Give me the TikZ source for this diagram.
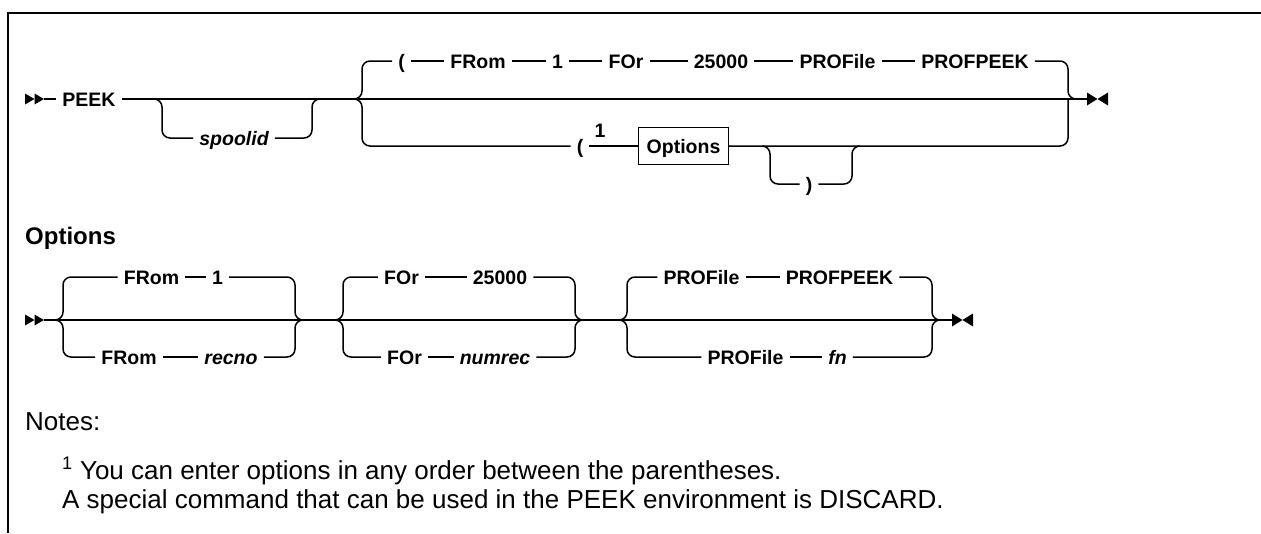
\documentclass[tikz,border=0pt]{standalone}
\usepackage{fontspec}
\setmainfont{Liberation Sans}

\tikzset{
  rail/.style={line width=1.5pt, rounded corners=8pt},
  kw/.style={inner xsep=6pt, inner ysep=1pt, text height=14pt, text depth=0pt,
    font=\fontsize{19.5}{22}\selectfont\bfseries},
  var/.style={kw, font=\fontsize{19.5}{22}\selectfont\bfseries\itshape},
  optbox/.style={kw, draw, line width=1.5pt, minimum height=37pt, inner xsep=8pt},
  notetext/.style={anchor=base west, inner sep=0pt, font=\fontsize{26}{30}\selectfont},
}

\begin{document}
\begin{tikzpicture}[x=1pt, y=-1pt]

  \useasboundingbox (0,0) rectangle (1261,533);
  \draw[line width=2.2pt] (8,533) -- (8,13) -- (1261,13);

  % start and end marks
  \foreach \y in {99,320}{
    \fill (25,\y-5.5) -- (34.5,\y) -- (25,\y+5.5) -- cycle;
    \fill (34.5,\y-5.5) -- (44,\y) -- (34.5,\y+5.5) -- cycle;
  }
  \foreach \x/\y in {1087/99, 952/320}{
    \fill (\x,\y-6.5) -- (\x+10.5,\y) -- (\x,\y+6.5) -- cycle;
    \fill (\x+21,\y-6.5) -- (\x+10.5,\y) -- (\x+21,\y+6.5) -- cycle;
  }

  % PEEK command
  \node[kw] (peek) at (89,99) {PEEK};
  \node[var] (spool) at (234,138) {spoolid};
  \node[kw] (lpa) at (401.5,61) {(};
  \node[kw] (froma) at (478,61) {FRom};
  \node[kw] (onea) at (557.5,61) {1};
  \node[kw] (fora) at (626,61) {FOr};
  \node[kw] (numa) at (721,61) {25000};
  \node[kw] (profa) at (837.5,61) {PROFile};
  \node[kw] (pfpka) at (975,61) {PROFPEEK};
  \node[kw] (lpb) at (580,146) {(};
  \node[kw, inner sep=0pt] (fn1) at (600,130) {1};
  \node[optbox] (optref) at (683.5,146) {Options};
  \node[kw] (rpb) at (809,184) {)};

  \coordinate (s1) at (44,99);
  \coordinate (e1) at (1087,99);
  \coordinate (j1) at (153,99);
  \coordinate (j2) at (312,99);
  \coordinate (g1) at (352,99);
  \coordinate (g1r) at (1068,99);
  \coordinate (k1) at (762,146);
  \coordinate (k2) at (852,146);

  \draw[rail] (s1) -- (peek.west);
  \draw[rail] (peek.east) -- (e1);
  \draw[rail] (j1) -- ++(9,0) |- (spool.west);
  \draw[rail] (spool.east) -| (j2) -- ++(8,0);
  \draw[rail] (g1) -- ++(10,0) |- (lpa.west);
  \foreach \a/\b in {lpa/froma, froma/onea, onea/fora, fora/numa, numa/profa, profa/pfpka}
    \draw[rail] (\a.east) -- (\b.west);
  \draw[rail] (pfpka.east) -| (g1r) -- ++(8,0);
  \draw[rail] (g1) -- ++(10,0) |- (lpb.west);
  \draw[rail] (lpb.east) -- (optref.west);
  \draw[rail] (optref.east) -| (g1r);
  \draw[rail] (k1) -- ++(8,0) |- (rpb.west);
  \draw[rail] (rpb.east) -| (k2) -- ++(8,0);

  % Options fragment
  \node[anchor=west, inner sep=0pt, font=\fontsize{24}{28}\selectfont\bfseries] (opthead) at (25,238) {Options};

  \node[kw] (fromb1) at (151.5,277) {FRom};
  \node[kw] (oneb) at (217.5,277) {1};
  \node[kw] (fromb2) at (129,357) {FRom};
  \node[var] (recno) at (231,357) {recno};
  \node[kw] (forb1) at (401.5,277) {FOr};
  \node[kw] (numb) at (500,277) {25000};
  \node[kw] (forb2) at (404.5,357) {FOr};
  \node[var] (numrec) at (495,357) {numrec};
  \node[kw] (profb1) at (701.5,277) {PROFile};
  \node[kw] (pfpkb) at (839.5,277) {PROFPEEK};
  \node[kw] (profb2) at (745.5,357) {PROFile};
  \node[var] (fnv) at (837.5,357) {fn};

  \coordinate (s2) at (44,320);
  \coordinate (e2) at (952,320);
  \coordinate (ga) at (50,320);
  \coordinate (gar) at (295,320);
  \coordinate (gb) at (333,320);
  \coordinate (gbr) at (575,320);
  \coordinate (gc) at (617,320);
  \coordinate (gcr) at (932,320);

  \draw[rail] (s2) -- (e2);
  \draw[rail] (ga) -- ++(13,0) |- (fromb1.west);
  \draw[rail] (ga) -- ++(13,0) |- (fromb2.west);
  \draw[rail] (gb) -- ++(10,0) |- (forb1.west);
  \draw[rail] (gb) -- ++(10,0) |- (forb2.west);
  \draw[rail] (gc) -- ++(10,0) |- (profb1.west);
  \draw[rail] (gc) -- ++(10,0) |- (profb2.west);
  \foreach \a/\b in {fromb1/oneb, fromb2/recno, forb1/numb, forb2/numrec, profb1/pfpkb, profb2/fnv}
    \draw[rail] (\a.east) -- (\b.west);
  \draw[rail] (oneb.east) -| (gar) -- ++(10,0);
  \draw[rail] (recno.east) -| (gar) -- ++(10,0);
  \draw[rail] (numb.east) -| (gbr) -- ++(8,0);
  \draw[rail] (numrec.east) -| (gbr) -- ++(8,0);
  \draw[rail] (pfpkb.east) -| (gcr) -- ++(8,0);
  \draw[rail] (fnv.east) -| (gcr) -- ++(8,0);

  % notes
  \node[notetext] (notes) at (25,430) {Notes:};
  \node[notetext] (note1) at (62,479) {\textsuperscript{1} You can enter options in any order between the parentheses.};
  \node[notetext] (note2) at (62,508) {A special command that can be used in the PEEK environment is DISCARD.};

\end{tikzpicture}
\end{document}
